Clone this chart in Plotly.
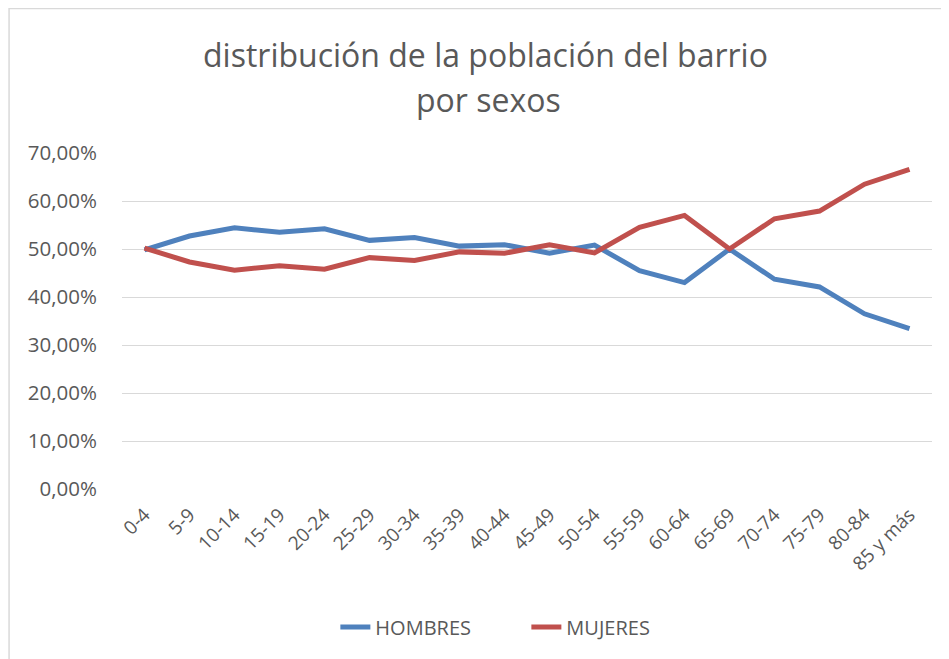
import plotly.graph_objects as go

categorias = ["0-4", "5-9", "10-14", "15-19", "20-24", "25-29", "30-34", "35-39",
              "40-44", "45-49", "50-54", "55-59", "60-64", "65-69", "70-74",
              "75-79", "80-84", "85 y más"]
hombres = [0.498, 0.527, 0.544, 0.535, 0.542, 0.518, 0.524, 0.506, 0.509, 0.491,
           0.508, 0.455, 0.430, 0.500, 0.437, 0.421, 0.365, 0.334]
mujeres = [0.502, 0.473, 0.456, 0.465, 0.458, 0.482, 0.476, 0.494, 0.491, 0.509,
           0.492, 0.545, 0.570, 0.500, 0.563, 0.579, 0.635, 0.666]

FONT = "Open Sans"
GRAY = "#595959"

OFF = 8  # page body margin
W, H = 949 - OFF, 659 - OFF
# plot area in page coordinates: x 121.5..932, y 153..489
L = 121.5 - OFF
R = 949 - 932
T = 153 - OFF
B = 659 - 489
ph = H - T - B
pw = W - L - R

def px_x(x):
    return (x - OFF - L) / pw

def px_y(y):
    return (H - B - (y - OFF)) / ph

fig = go.Figure()
fig.add_trace(go.Scatter(x=categorias, y=hombres, name="HOMBRES", mode="lines",
                         line=dict(color="#4F81BD", width=5)))
fig.add_trace(go.Scatter(x=categorias, y=mujeres, name="MUJERES", mode="lines",
                         line=dict(color="#C0504D", width=5)))

fig.update_layout(
    width=W, height=H,
    margin=dict(l=L, r=R, t=T, b=B, autoexpand=False),
    paper_bgcolor="white", plot_bgcolor="white",
    separators=",.",
    font=dict(family=FONT, color=GRAY),
    showlegend=True,
    legend=dict(orientation="h", x=px_x(335), xanchor="left",
                y=px_y(627), yanchor="middle",
                font=dict(family=FONT, size=20, color=GRAY),
                itemwidth=30, tracegroupgap=0,
                entrywidth=146, entrywidthmode="pixels"),
    xaxis=dict(type="category", tickangle=-45, showgrid=False, showline=False,
               ticks="", tickfont=dict(family=FONT, size=19, color=GRAY),
               ticklabelstandoff=10,
               range=[-0.5, len(categorias) - 0.5], zeroline=False),
    yaxis=dict(range=[0, 0.7], dtick=0.1, tickformat=".2%", showgrid=True,
               gridcolor="#D9D9D9", gridwidth=1, zeroline=False, showline=False,
               ticks="", ticklen=0, ticklabelstandoff=24,
               tickfont=dict(family=FONT, size=20.5, color=GRAY)),
)

fig.add_annotation(text="distribución de la población del barrio", xref="paper", yref="paper",
                   x=px_x(485), y=px_y(55), showarrow=False, xanchor="center", yanchor="middle",
                   font=dict(family=FONT, size=32, color=GRAY))
fig.add_annotation(text="por sexos", xref="paper", yref="paper",
                   x=px_x(488), y=px_y(100), showarrow=False, xanchor="center", yanchor="middle",
                   font=dict(family=FONT, size=32, color=GRAY))

fig.add_shape(type="rect", xref="paper", yref="paper",
              x0=px_x(8.5), y0=px_y(8.5), x1=px_x(960), y1=px_y(680),
              line=dict(color="#D9D9D9", width=1.5), fillcolor="rgba(0,0,0,0)", layer="below")

fig.write_html("out.html")
